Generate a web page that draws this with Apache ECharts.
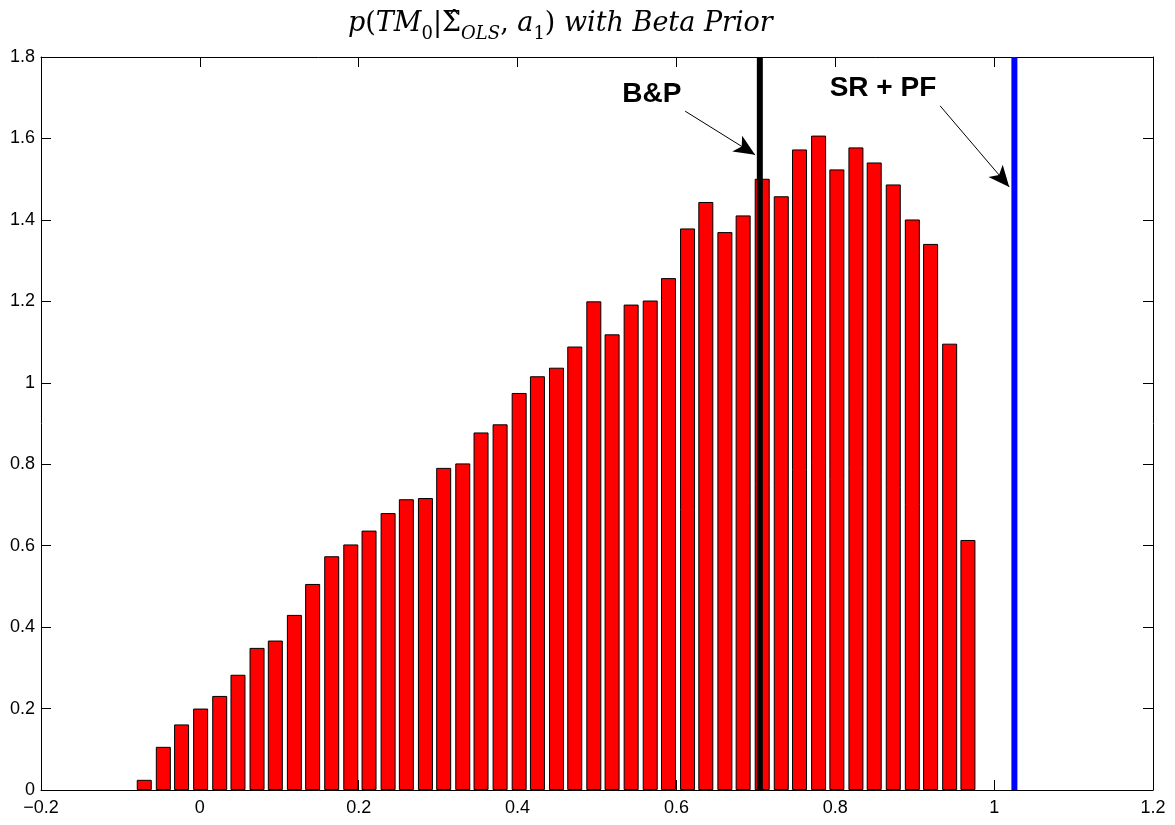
<!DOCTYPE html>
<html>
<head>
<meta charset="utf-8">
<script src="https://cdn.jsdelivr.net/npm/echarts@6/dist/echarts.min.js"></script>
<style>
  html, body { margin: 0; padding: 0; background: #fff; }
  #chart { width: 1175px; height: 825px; }
</style>
</head>
<body>
<div id="chart"></div>
<script>
// Histogram bin centres of TM0 draws
const binCenters = [
  -0.070, -0.046, -0.023, 0.001, 0.025, 0.048, 0.072, 0.095, 0.119, 0.142,
  0.166, 0.190, 0.213, 0.237, 0.260, 0.284, 0.307, 0.331, 0.354, 0.378,
  0.402, 0.425, 0.449, 0.472, 0.496, 0.519, 0.543, 0.567, 0.590, 0.614,
  0.637, 0.661, 0.684, 0.708, 0.732, 0.755, 0.779, 0.802, 0.826, 0.849,
  0.873, 0.897, 0.920, 0.944, 0.967
];

// Posterior density per bin
const density = [
  0.025, 0.106, 0.161, 0.200, 0.231, 0.283, 0.349, 0.367, 0.430, 0.506,
  0.574, 0.603, 0.637, 0.680, 0.714, 0.717, 0.791, 0.802, 0.878, 0.898,
  0.975, 1.016, 1.037, 1.089, 1.200, 1.119, 1.192, 1.202, 1.257, 1.379,
  1.444, 1.370, 1.411, 1.501, 1.458, 1.573, 1.607, 1.524, 1.578, 1.541,
  1.487, 1.401, 1.341, 1.096, 0.614
];

// Reference estimates drawn as vertical lines
const estimateNames = ['B&P', 'SR + PF'];
const estimateValues = [0.705, 1.0255];
const estimateColors = ['#000000', '#0000ff'];

// Axis ranges and tick spacing
const xRange = [-0.2, 1.2];
const yRange = [0, 1.8];
const tickStep = 0.2;

const fmt = v => String(+(+v).toFixed(1)).replace('-', '\u2212');

const tickFont = { fontFamily: 'Liberation Sans', fontSize: 18, color: '#000' };

function valueAxis(range, position, showLabels) {
  return {
    type: 'value',
    position: position,
    min: range[0],
    max: range[1],
    interval: tickStep,
    axisLine: { show: true, onZero: false, lineStyle: { color: '#000', width: 1 } },
    axisTick: { show: true, inside: true, length: 10, lineStyle: { color: '#000', width: 1 } },
    axisLabel: Object.assign({
      show: showLabels,
      formatter: fmt,
      showMinLabel: true,
      showMaxLabel: true
    }, tickFont),
    splitLine: { show: false }
  };
}

const xBottom = valueAxis(xRange, 'bottom', true);
xBottom.axisLabel.margin = 9;
const xTop = valueAxis(xRange, 'top', false);
const yLeft = valueAxis(yRange, 'left', true);
yLeft.axisLabel.margin = 6;
const yRight = valueAxis(yRange, 'right', false);

const barData = binCenters.map((c, i) => [c, density[i]]);

const estimateSeries = estimateValues.map((v, i) => ({
  name: estimateNames[i],
  type: 'line',
  xAxisIndex: 0,
  yAxisIndex: 0,
  data: [[v, yRange[0]], [v, yRange[1]]],
  symbol: 'none',
  silent: true,
  z: 5,
  lineStyle: { color: estimateColors[i], width: 6, cap: 'butt' }
}));

// Callout text + arrow pointing at each estimate line
const callouts = [
  { text: 'B&P', at: [0.569, 1.708], from: [0.611, 1.667], to: [0.699, 1.560] },
  { text: 'SR + PF', at: [0.860, 1.723], from: [0.932, 1.680], to: [1.019, 1.481] }
];

const calloutSeries = {
  name: 'callouts',
  type: 'line',
  data: [],
  silent: true,
  z: 6,
  markLine: {
    silent: true,
    symbol: ['none', 'arrow'],
    symbolSize: [14, 21],
    lineStyle: { color: '#000', width: 1, type: 'solid' },
    label: { show: false },
    data: callouts.map(c => [{ coord: c.from }, { coord: c.to }])
  },
  markPoint: {
    silent: true,
    symbol: 'rect',
    symbolSize: 1,
    itemStyle: { color: 'rgba(0,0,0,0)' },
    label: {
      show: true,
      position: 'inside',
      color: '#000',
      fontFamily: 'Liberation Sans',
      fontWeight: 'bold',
      fontSize: 28,
      formatter: p => p.name
    },
    data: callouts.map(c => ({ name: c.text, coord: c.at }))
  }
};

const serif = 'DejaVu Serif';
const base = { color: '#000', fontWeight: 'normal', lineHeight: 38, verticalAlign: 'middle' };
const sub = { color: '#000', fontWeight: 'normal', fontFamily: serif, fontSize: 18, lineHeight: 20, verticalAlign: 'bottom' };
const titleRich = {
  i: Object.assign({ fontFamily: serif, fontStyle: 'italic', fontSize: 27 }, base),
  n: Object.assign({ fontFamily: serif, fontSize: 27 }, base),
  g: Object.assign({ fontFamily: serif, fontSize: 27 }, base),
  si: Object.assign({ fontStyle: 'italic' }, sub),
  sn: Object.assign({}, sub)
};

const option = {
  backgroundColor: '#fff',
  animation: false,
  title: {
    text: '{i|p}{n|(}{i|TM}{sn|0}{n||}{g|\u03A3\u0302}{si|OLS}{n|, }{i|a}{sn|1}{n|)}{i| with Beta Prior}',
    left: 343,
    top: 0,
    textStyle: { fontWeight: 'normal', rich: titleRich }
  },
  grid: { left: 41, right: 22, top: 57, bottom: 35, containLabel: false },
  xAxis: [xBottom, xTop],
  yAxis: [yLeft, yRight],
  series: [
    {
      name: 'density',
      type: 'bar',
      xAxisIndex: 0,
      yAxisIndex: 0,
      data: barData,
      barWidth: 15,
      silent: true,
      z: 2,
      itemStyle: { color: '#ff0000', borderColor: '#000', borderWidth: 1 }
    },
    ...estimateSeries,
    calloutSeries
  ]
};

const chart = echarts.init(document.getElementById('chart'), null, { renderer: 'canvas' });
chart.setOption(option);
</script>
</body>
</html>
